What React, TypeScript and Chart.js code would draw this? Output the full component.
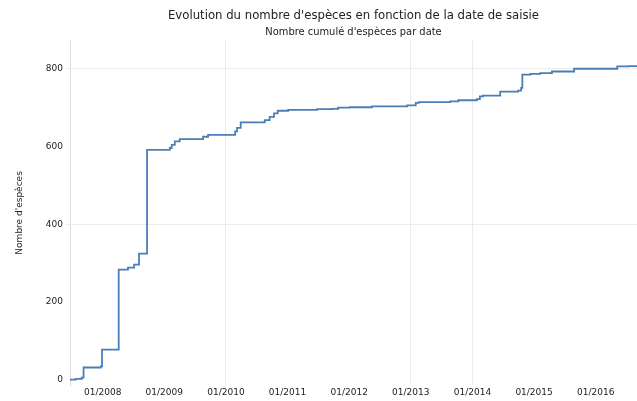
import React, { useEffect, useRef } from "react";
import { Chart, registerables } from "chart.js";

Chart.register(...registerables);

// step dates (decimal years) and cumulative species counts
const stepDates: number[] = [
  2007.47, 2007.56, 2007.66, 2007.69, 2007.97, 2007.99, 2008.26, 2008.41, 2008.51, 2008.59,
  2008.72, 2009.09, 2009.12, 2009.17, 2009.25, 2009.63, 2009.71, 2010.15, 2010.18, 2010.24,
  2010.63, 2010.71, 2010.78, 2010.84, 2011.01, 2011.48, 2011.72, 2011.82, 2012.01, 2012.37,
  2012.94, 2013.08, 2013.13, 2013.64, 2013.77, 2014.07, 2014.12, 2014.17, 2014.45, 2014.74,
  2014.79, 2014.81, 2014.94, 2015.1, 2015.29, 2015.65, 2016.35, 2016.53, 2016.67,
];
const speciesCounts: number[] = [
  0, 2, 5, 31, 34, 77, 283, 288, 296, 324,
  591, 596, 604, 613, 619, 625, 630, 639, 648, 662,
  668, 676, 685, 692, 694, 696, 697, 700, 701, 703,
  706, 712, 714, 716, 719, 722, 729, 731, 741, 744,
  751, 785, 787, 789, 793, 800, 806, 807, 807,
];
const yearTicks: number[] = [2008, 2009, 2010, 2011, 2012, 2013, 2014, 2015, 2016];
const countTicks: number[] = [0, 200, 400, 600, 800];
const xGridYears: number[] = [2010, 2013, 2014];
const yGridValues: number[] = [400, 800];

const FONT = "'DejaVu Sans', sans-serif";
const TITLE_FONT = "'DejaVu Sans Condensed', 'DejaVu Sans', sans-serif";

export default function App() {
  const ref = useRef<HTMLCanvasElement | null>(null);

  useEffect(() => {
    document.body.style.margin = "0";
    const canvas = ref.current;
    if (!canvas) return;
    const data = stepDates.map((d, i) => ({ x: d, y: speciesCounts[i] }));
    const chart = new Chart(canvas, {
      type: "line",
      data: {
        datasets: [
          {
            data,
            borderColor: "#4a7fb6",
            borderWidth: 1.8,
            pointRadius: 0,
            stepped: true,
            fill: false,
          },
        ],
      },
      options: {
        animation: false,
        responsive: false,
        maintainAspectRatio: false,
        layout: { padding: { left: 0, right: 0, top: 0, bottom: 0 } },
        plugins: {
          legend: { display: false },
          tooltip: { enabled: false },
          title: {
            display: true,
            text: "Evolution du nombre d'espèces en fonction de la date de saisie",
            color: "#222",
            font: { family: TITLE_FONT, size: 13, weight: "normal" },
            padding: { top: 8, bottom: 2 },
            fullSize: false,
          },
          subtitle: {
            display: true,
            text: "Nombre cumulé d'espèces par date",
            color: "#222",
            font: { family: TITLE_FONT, size: 11, weight: "normal" },
            padding: { top: 0, bottom: 2 },
            fullSize: false,
          },
        },
        scales: {
          x: {
            type: "linear",
            min: 2007.47,
            max: 2016.67,
            afterBuildTicks: (axis: any) => {
              axis.ticks = yearTicks.map((v) => ({ value: v }));
            },
            afterFit: (axis: any) => {
              axis.height = 16;
            },
            ticks: {
              autoSkip: false,
              maxRotation: 0,
              padding: 2,
              color: "#222",
              font: { family: FONT, size: 9 },
              callback: (v: any) => "01/" + v,
            },
            grid: {
              drawTicks: false,
              color: (ctx: any) =>
                ctx.tick && xGridYears.includes(ctx.tick.value) ? "#ececec" : "rgba(0,0,0,0)",
            },
            border: { display: false },
          },
          y: {
            type: "linear",
            min: -14,
            max: 872,
            afterBuildTicks: (axis: any) => {
              axis.ticks = countTicks.map((v) => ({ value: v }));
            },
            afterFit: (axis: any) => {
              axis.width = 70;
            },
            ticks: {
              padding: 3,
              color: "#222",
              font: { family: FONT, size: 9 },
            },
            grid: {
              tickLength: 4,
              color: (ctx: any) =>
                ctx.tick && yGridValues.includes(ctx.tick.value) ? "#ececec" : "rgba(0,0,0,0)",
            },
            border: { display: true, color: "#dddddd" },
            title: {
              display: true,
              text: "Nombre d'espèces",
              color: "#222",
              font: { family: FONT, size: 9 },
              padding: { top: 14, bottom: 0 },
            },
          },
        },
      },
    });
    return () => chart.destroy();
  }, []);

  return (
    <div style={{ position: "fixed", left: 0, top: 0, width: 637, height: 401 }}>
      <canvas ref={ref} width={637} height={401} style={{ width: 637, height: 401 }} />
    </div>
  );
}
